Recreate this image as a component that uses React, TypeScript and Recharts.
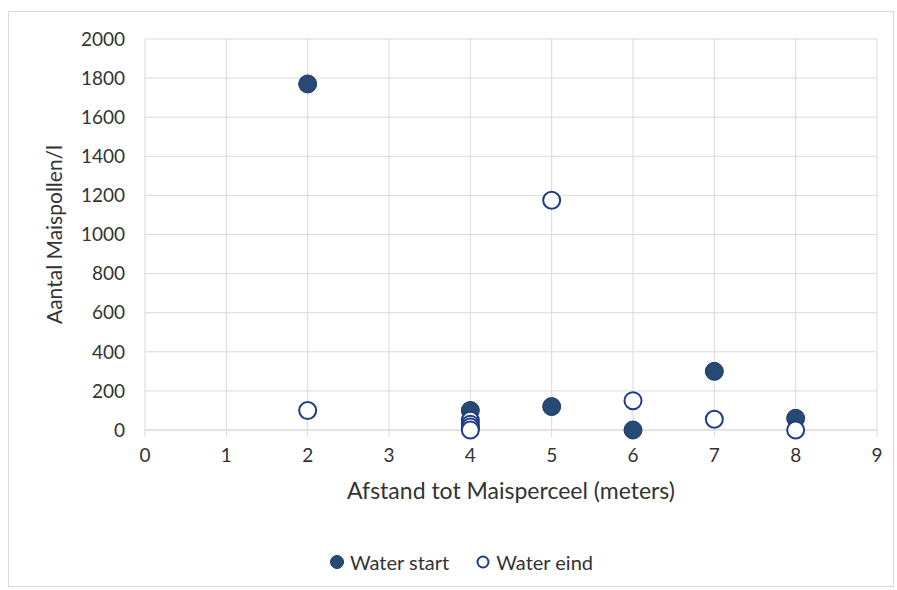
import React from "react";
import {
  ScatterChart,
  Scatter,
  XAxis,
  YAxis,
  CartesianGrid,
} from "recharts";

const xTicks = [0, 1, 2, 3, 4, 5, 6, 7, 8, 9];
const yTicks = [0, 200, 400, 600, 800, 1000, 1200, 1400, 1600, 1800, 2000];

const startX = [2, 4, 4, 5, 6, 7, 8];
const startY = [1770, 100, 10, 120, 0, 300, 60];

const eindX = [2, 4, 4, 4, 4, 5, 6, 7, 8];
const eindY = [100, 50, 30, 15, 0, 1175, 150, 55, 0];

const startData = startX.map((x, i) => ({ x, y: startY[i] }));
const eindData = eindX.map((x, i) => ({ x, y: eindY[i] }));

const FONT = "Lato, 'Open Sans', sans-serif";
const TEXT = "#333333";

function LegendBox() {
  return (
    <div
      style={{
        position: "absolute",
        left: 0,
        top: 550,
        width: 922,
        display: "flex",
        justifyContent: "center",
        gap: 26,
        fontFamily: FONT,
        fontSize: 20,
        color: TEXT,
      }}
    >
      <span style={{ display: "flex", alignItems: "center", gap: 5 }}>
        <svg width={16} height={16}>
          <circle cx={8} cy={8} r={6.5} fill="#264a73" stroke="#1f3864" />
        </svg>
        Water start
      </span>
      <span style={{ display: "flex", alignItems: "center", gap: 5 }}>
        <svg width={16} height={16}>
          <circle cx={8} cy={8} r={5.5} fill="#fff" stroke="#1f3c88" strokeWidth={2} />
        </svg>
        Water eind
      </span>
    </div>
  );
}

export default function App() {
  return (
    <div style={{ position: "absolute", left: 0, top: 0, width: 897, height: 590, background: "#fff" }}>
      <div
        style={{
          position: "absolute",
          left: 8,
          top: 11,
          width: 886,
          height: 576,
          border: "1px solid #d9d9d9",
          boxSizing: "border-box",
        }}
      />
      <ScatterChart
        width={897}
        height={590}
        margin={{ top: 39, right: 20, bottom: 20, left: 45 }}
        style={{ position: "absolute", left: 0, top: 0 }}
      >
        <CartesianGrid stroke="#d9d9d9" />
        <XAxis
          dataKey="x"
          type="number"
          domain={[0, 9]}
          ticks={xTicks}
          interval={0}
          height={140}
          tick={{ fontSize: 19, fill: TEXT, fontFamily: FONT }}
          tickLine={{ stroke: "#d9d9d9" }}
          tickSize={7}
          tickMargin={12}
          axisLine={{ stroke: "#d9d9d9" }}
          label={{
            value: "Afstand tot Maisperceel (meters)",
            position: "insideTop",
            offset: 53,
            fontSize: 23,
            fill: TEXT,
            fontFamily: FONT,
          }}
        />
        <YAxis
          dataKey="y"
          type="number"
          domain={[0, 2000]}
          ticks={yTicks}
          interval={0}
          width={100}
          tick={{ fontSize: 19, fill: TEXT, fontFamily: FONT }}
          tickLine={false}
          tickMargin={14}
          axisLine={false}
          label={{
            value: "Aantal Maispollen/l",
            angle: -90,
            position: "insideLeft",
            offset: 10,
            style: { textAnchor: "middle" },
            fontSize: 21,
            fill: TEXT,
            fontFamily: FONT,
          }}
        />
        <Scatter
          name="Water start"
          data={startData}
          isAnimationActive={false}
          shape={(p: any) => (
            <circle cx={p.cx} cy={p.cy} r={9} fill="#264a73" stroke="#1f3864" strokeWidth={1} />
          )}
        />
        <Scatter
          name="Water eind"
          data={eindData}
          isAnimationActive={false}
          shape={(p: any) => (
            <circle cx={p.cx} cy={p.cy} r={8.5} fill="#fff" stroke="#1f3c88" strokeWidth={2} />
          )}
        />
      </ScatterChart>
      <LegendBox />
    </div>
  );
}
